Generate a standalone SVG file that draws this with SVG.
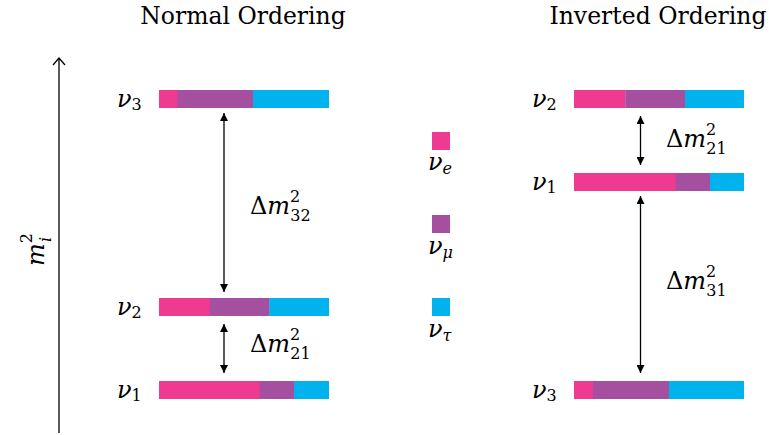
<svg xmlns="http://www.w3.org/2000/svg" width="769" height="435" viewBox="0 0 769 435">
<style>
.t{font-family:'DejaVu Serif','Liberation Serif','Times New Roman',serif;font-size:23.5px;fill:#000}
.m{font-family:'DejaVu Serif','Liberation Serif','Times New Roman',serif;font-size:24px;fill:#000}
.i{font-style:italic}
.s{font-size:16px}
.p{fill:#EE3A91}.u{fill:#A54FA1}.b{fill:#00B3EC}
.ln{stroke:#000;stroke-width:1.3;fill:none}
</style>
<defs>
<marker id="ah" viewBox="0 0 10 10" refX="10" refY="5" markerWidth="8" markerHeight="8" markerUnits="userSpaceOnUse" orient="auto-start-reverse"><path d="M0,0 L10,5 L0,10 Z" fill="#000"/></marker>
</defs>
<text class="t" x="243" y="24" text-anchor="middle">Normal Ordering</text>
<text class="t" x="658" y="24" text-anchor="middle">Inverted Ordering</text>
<g id="axis">
<line class="ln" x1="59" y1="433" x2="59" y2="59" stroke-width="1.5"/>
<path class="ln" d="M53,65 L59,58 L65,65" stroke-width="1.5"/>
<text class="m" transform="translate(44,266) rotate(-90)"><tspan class="i">m</tspan><tspan class="s" dy="-12">2</tspan><tspan class="s i" dx="-9" dy="19">i</tspan></text>
</g>
<g id="n-nu3">
<rect class="p" x="159" y="90" width="19" height="18"/><rect class="u" x="177.5" y="90" width="76" height="18"/><rect class="b" x="253" y="90" width="76" height="18"/>
<text class="m" x="117" y="107"><tspan class="i">ν</tspan><tspan class="s" dy="3">3</tspan></text>
</g>
<g id="n-nu2">
<rect class="p" x="159" y="298" width="51" height="18"/><rect class="u" x="209.7" y="298" width="60" height="18"/><rect class="b" x="269.3" y="298" width="59.7" height="18"/>
<text class="m" x="117" y="315"><tspan class="i">ν</tspan><tspan class="s" dy="3">2</tspan></text>
</g>
<g id="n-nu1">
<rect class="p" x="159" y="381" width="101" height="18"/><rect class="u" x="259.7" y="381" width="34.6" height="18"/><rect class="b" x="294" y="381" width="35" height="18"/>
<text class="m" x="117" y="398"><tspan class="i">ν</tspan><tspan class="s" dy="3">1</tspan></text>
</g>
<g id="i-nu2">
<rect class="p" x="574" y="90" width="51.5" height="18"/><rect class="u" x="625.3" y="90" width="60" height="18"/><rect class="b" x="685" y="90" width="59" height="18"/>
<text class="m" x="532" y="107"><tspan class="i">ν</tspan><tspan class="s" dy="3">2</tspan></text>
</g>
<g id="i-nu1">
<rect class="p" x="574" y="173" width="102" height="18"/><rect class="u" x="675.7" y="173" width="34.6" height="18"/><rect class="b" x="710" y="173" width="34" height="18"/>
<text class="m" x="532" y="190"><tspan class="i">ν</tspan><tspan class="s" dy="3">1</tspan></text>
</g>
<g id="i-nu3">
<rect class="p" x="574" y="381" width="19.3" height="18"/><rect class="u" x="593" y="381" width="76.3" height="18"/><rect class="b" x="669" y="381" width="75" height="18"/>
<text class="m" x="532" y="398"><tspan class="i">ν</tspan><tspan class="s" dy="3">3</tspan></text>
</g>
<g id="legend">
<rect class="p" x="432" y="132" width="18" height="18"/>
<text class="m" x="428" y="170"><tspan class="i">ν</tspan><tspan class="s i" dy="4">e</tspan></text>
<rect class="u" x="432" y="215" width="18" height="18"/>
<text class="m" x="428" y="254"><tspan class="i">ν</tspan><tspan class="s i" dy="4">μ</tspan></text>
<rect class="b" x="432" y="298" width="18" height="18"/>
<text class="m" x="428" y="337"><tspan class="i">ν</tspan><tspan class="s i" dy="4">τ</tspan></text>
</g>
<g id="connectors">
<line class="ln" x1="224" y1="113" x2="224" y2="292" marker-start="url(#ah)" marker-end="url(#ah)"/>
<line class="ln" x1="224" y1="324" x2="224" y2="373" marker-start="url(#ah)" marker-end="url(#ah)"/>
<line class="ln" x1="640.5" y1="116" x2="640.5" y2="165" marker-start="url(#ah)" marker-end="url(#ah)"/>
<line class="ln" x1="640.5" y1="196" x2="640.5" y2="373" marker-start="url(#ah)" marker-end="url(#ah)"/>
</g>
<g id="labels">
<text class="m" x="250" y="214">Δ<tspan class="i">m</tspan><tspan class="s" dy="-12">2</tspan><tspan class="s" dx="-10" dy="19">32</tspan></text>
<text class="m" x="250" y="352">Δ<tspan class="i">m</tspan><tspan class="s" dy="-12">2</tspan><tspan class="s" dx="-10" dy="19">21</tspan></text>
<text class="m" x="666" y="147">Δ<tspan class="i">m</tspan><tspan class="s" dy="-12">2</tspan><tspan class="s" dx="-10" dy="19">21</tspan></text>
<text class="m" x="666" y="289">Δ<tspan class="i">m</tspan><tspan class="s" dy="-12">2</tspan><tspan class="s" dx="-10" dy="19">31</tspan></text>
</g>
</svg>
